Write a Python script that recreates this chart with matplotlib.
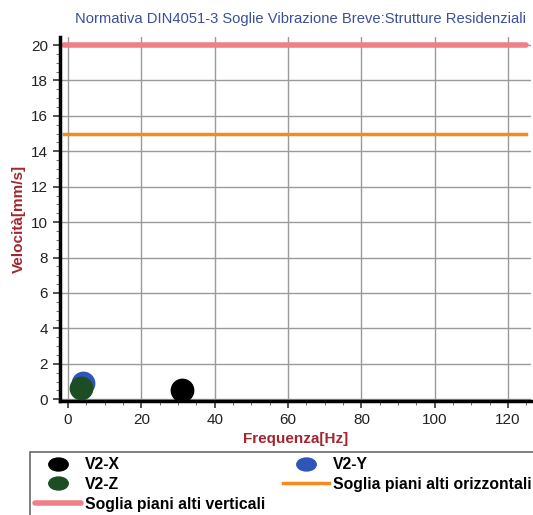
import matplotlib.pyplot as plt
from matplotlib.ticker import MultipleLocator
from matplotlib.lines import Line2D
from matplotlib.path import Path
from matplotlib.transforms import Affine2D

plt.rcParams['font.family'] = ['Liberation Sans', 'DejaVu Sans']

# misure puntuali (frequenza Hz, velocita mm/s)
labels = ["V2-X", "V2-Y", "V2-Z"]
freq = [31, 4, 3.5]
vel = [0.5, 0.9, 0.65]
colors = ["#000000", "#2f55b8", "#1d4d22"]

# soglie DIN4051-3
soglia_freq = [-1, 125]
soglia_vert = [20, 20]
soglia_orizz = [15, 15]

fig = plt.figure(figsize=(5.33, 5.15), dpi=100)
ax = fig.add_axes([0.1126, 0.2214, 0.884, 0.7066])

lv, = ax.plot(soglia_freq, soglia_vert, color="#f08088", lw=4, solid_capstyle="round",
              label="Soglia piani alti verticali")
lo, = ax.plot(soglia_freq, soglia_orizz, color="#f58a1f", lw=2.5,
              label="Soglia piani alti orizzontali")

for f, v, c, l in zip(freq, vel, colors, labels):
    ax.scatter(f, v, s=260, color=c, label=l, zorder=3)

ax.set_xlim(-2.2, 126.3)
ax.set_ylim(-0.1, 20.45)
ax.xaxis.set_major_locator(MultipleLocator(20))
ax.xaxis.set_minor_locator(MultipleLocator(5))
ax.yaxis.set_major_locator(MultipleLocator(2))
ax.yaxis.set_minor_locator(MultipleLocator(0.5))
ax.tick_params(which="major", direction="out", length=5, width=1.2, labelsize=11,
               colors="#333333", labelcolor="#222222")
ax.tick_params(which="minor", direction="out", length=3, color="#555555")
ax.grid(True, which="major", color="#9a9a9a", lw=1.0)

for s in ["top", "right"]:
    ax.spines[s].set_visible(False)
ax.spines["left"].set_linewidth(2.5)
ax.spines["bottom"].set_linewidth(2.5)

ax.set_title("Normativa DIN4051-3 Soglie Vibrazione Breve:Strutture Residenziali",
             fontsize=10.6, color="#3b4f9c", pad=10, x=0.51)
ax.set_xlabel("Frequenza[Hz]", color="#a3262e", fontweight="bold", fontsize=11)
ax.set_ylabel("Velocità[mm/s]", color="#a3262e", fontweight="bold", fontsize=11)

# marker ellittico per la legenda
ellisse = Path.unit_circle().transformed(Affine2D().scale(1.5, 1.0))
mk = {l: Line2D([], [], ls="none", marker=ellisse, markersize=14, color=c, label=l)
      for l, c in zip(labels, colors)}

# legenda a due colonne, riempita per righe
handles = [mk["V2-X"], mk["V2-Z"], lv, mk["V2-Y"], lo]
leg = fig.legend(handles, [h.get_label() for h in handles], ncol=2,
                 loc="upper left", bbox_to_anchor=(0.056, 0.123),
                 borderaxespad=0, frameon=True, fancybox=False,
                 edgecolor="#444444", prop={"weight": "bold", "size": 11.3},
                 handlelength=2.9, labelspacing=0.3, borderpad=0.35,
                 handletextpad=0.25, columnspacing=1.15)
leg.get_frame().set_linewidth(1.2)

fig.savefig("out.png", dpi=100)
